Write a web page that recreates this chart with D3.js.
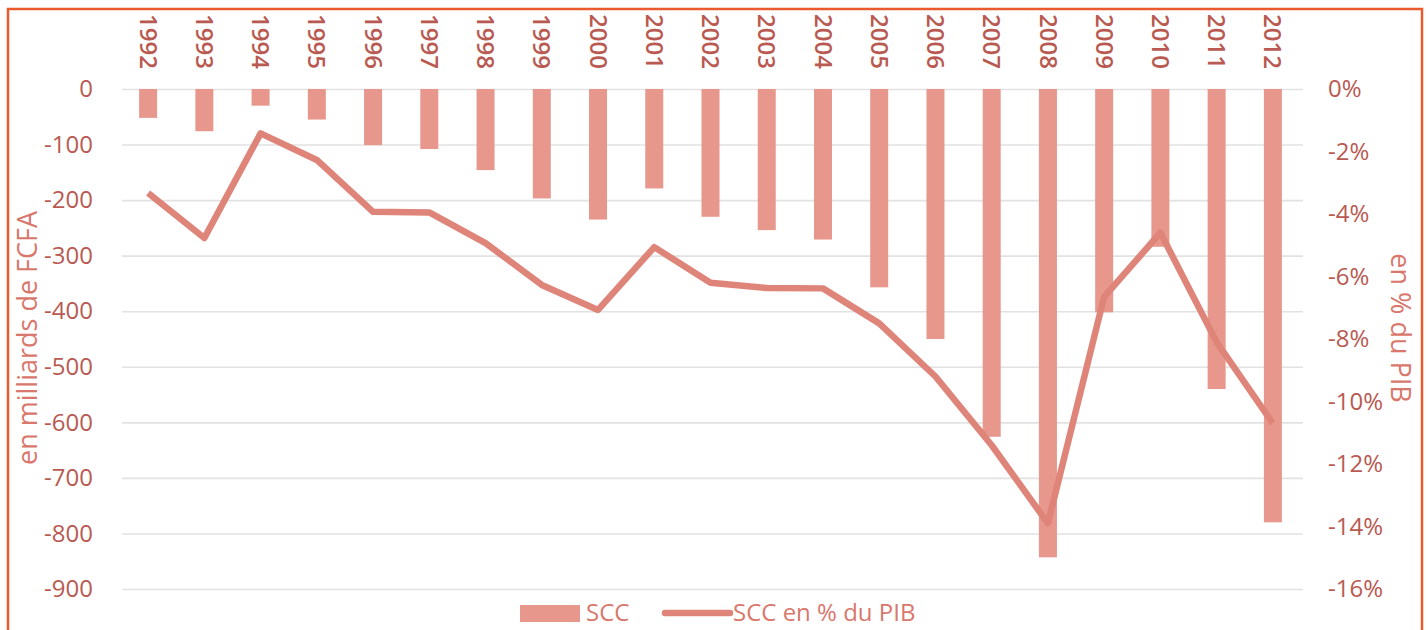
<!DOCTYPE html>
<html>
<head>
<meta charset="utf-8">
<script src="https://cdn.jsdelivr.net/npm/d3@7.9.0/dist/d3.min.js"></script>
<style>
  body { margin: 0; background: #fff; }
  svg { display: block; font-family: "Open Sans", sans-serif; }
</style>
</head>
<body>
<div id="chart"></div>
<script>
const years = ['1992','1993','1994','1995','1996','1997','1998','1999','2000','2001','2002',
  '2003','2004','2005','2006','2007','2008','2009','2010','2011','2012'];
// SCC, en milliards de FCFA
const scc = [-52, -76, -30, -55, -101, -108, -146, -197, -235, -179, -230,
  -254, -271, -357, -450, -626, -843, -402, -284, -540, -780];
// SCC en % du PIB
const sccPct = [-3.33, -4.77, -1.42, -2.27, -3.93, -3.95, -4.93, -6.27, -7.07, -5.06, -6.2,
  -6.37, -6.38, -7.5, -9.2, -11.4, -13.9, -6.65, -4.6, -8.1, -10.7];
const leftTicks = [0, -100, -200, -300, -400, -500, -600, -700, -800, -900];
const rightTicks = [0, -2, -4, -6, -8, -10, -12, -14, -16];
const legendLabels = ['SCC', 'SCC en % du PIB'];

const width = 1428, height = 630;
const plot = { left: 120, right: 1301, top: 89, bottom: 589 };
const barColor = '#e8978d';
const lineColor = '#df8479';
const tickColor = '#b95a52';
const titleColor = '#d9776c';

const svg = d3.select('#chart').append('svg')
  .attr('width', width).attr('height', height);

// frame
svg.append('rect')
  .attr('x', 8).attr('y', 9)
  .attr('width', 1414).attr('height', 640)
  .attr('fill', 'none')
  .attr('stroke', '#ea5a2c')
  .attr('stroke-width', 2.5);

const x = d3.scaleBand()
  .domain(years)
  .range([plot.left, plot.right])
  .paddingInner(0.68)
  .paddingOuter(0.34);

const yLeft = d3.scaleLinear().domain([-900, 0]).range([plot.bottom, plot.top]);
const yRight = d3.scaleLinear().domain([-16, 0]).range([plot.bottom, plot.top]);

// gridlines
const grid = svg.append('g')
  .attr('transform', `translate(${plot.left + 2},0)`)
  .call(d3.axisLeft(yLeft).tickValues(leftTicks).tickFormat('').tickSize(-(plot.right - plot.left)));
grid.select('.domain').remove();
grid.selectAll('line').attr('stroke', '#e2e2e2').attr('stroke-width', 1.6);

// bars
svg.append('g').selectAll('rect')
  .data(years)
  .join('rect')
  .attr('x', d => x(d))
  .attr('width', x.bandwidth())
  .attr('y', yLeft(0))
  .attr('height', (d, i) => yLeft(scc[i]) - yLeft(0))
  .attr('fill', barColor);

// line
const line = d3.line()
  .x((d, i) => x(years[i]) + x.bandwidth() / 2)
  .y(d => yRight(d));
svg.append('path')
  .datum(sccPct)
  .attr('d', line)
  .attr('fill', 'none')
  .attr('stroke', lineColor)
  .attr('stroke-width', 6.5)
  .attr('stroke-linejoin', 'round');

// left axis
const axL = svg.append('g')
  .attr('transform', `translate(${plot.left - 27},0)`)
  .call(d3.axisLeft(yLeft).tickValues(leftTicks).tickSize(0).tickPadding(0).tickFormat(d => String(d)));
axL.select('.domain').remove();
axL.selectAll('text')
  .attr('fill', tickColor)
  .style('font-size', '24px')
  .style('font-family', '"Open Sans", sans-serif');

// right axis
const axR = svg.append('g')
  .attr('transform', `translate(1328,0)`)
  .call(d3.axisRight(yRight).tickValues(rightTicks).tickSize(0).tickPadding(0).tickFormat(d => d + '%'));
axR.select('.domain').remove();
axR.selectAll('text')
  .attr('fill', tickColor)
  .style('font-size', '24px')
  .style('font-family', '"Open Sans", sans-serif');

// year labels on top, rotated
svg.append('g').selectAll('text')
  .data(years)
  .join('text')
  .attr('transform', d => `translate(${x(d) + x.bandwidth() / 2},14) rotate(90)`)
  .attr('dy', '0.35em')
  .attr('fill', tickColor)
  .style('font-size', '24px')
  .style('font-weight', 600)
  .text(d => d);

// axis titles
svg.append('text')
  .attr('transform', 'translate(28,338) rotate(-90)')
  .attr('text-anchor', 'middle')
  .attr('dy', '0.35em')
  .attr('fill', titleColor)
  .style('font-size', '27px')
  .text('en milliards de FCFA');

svg.append('text')
  .attr('transform', 'translate(1400,328) rotate(90)')
  .attr('text-anchor', 'middle')
  .attr('dy', '0.35em')
  .attr('fill', titleColor)
  .style('font-size', '27px')
  .text('en % du PIB');

// legend
const legend = svg.append('g').attr('transform', 'translate(0,613)');
legend.append('rect')
  .attr('x', 520).attr('y', -8).attr('width', 60).attr('height', 17)
  .attr('fill', barColor);
legend.append('text')
  .attr('x', 586).attr('dy', '0.35em')
  .attr('fill', titleColor).style('font-size', '24px')
  .text(legendLabels[0]);
legend.append('line')
  .attr('x1', 665).attr('x2', 730)
  .attr('stroke', lineColor).attr('stroke-width', 6.5).attr('stroke-linecap', 'round');
legend.append('text')
  .attr('x', 733).attr('dy', '0.35em')
  .attr('fill', titleColor).style('font-size', '24px')
  .text(legendLabels[1]);
</script>
</body>
</html>
